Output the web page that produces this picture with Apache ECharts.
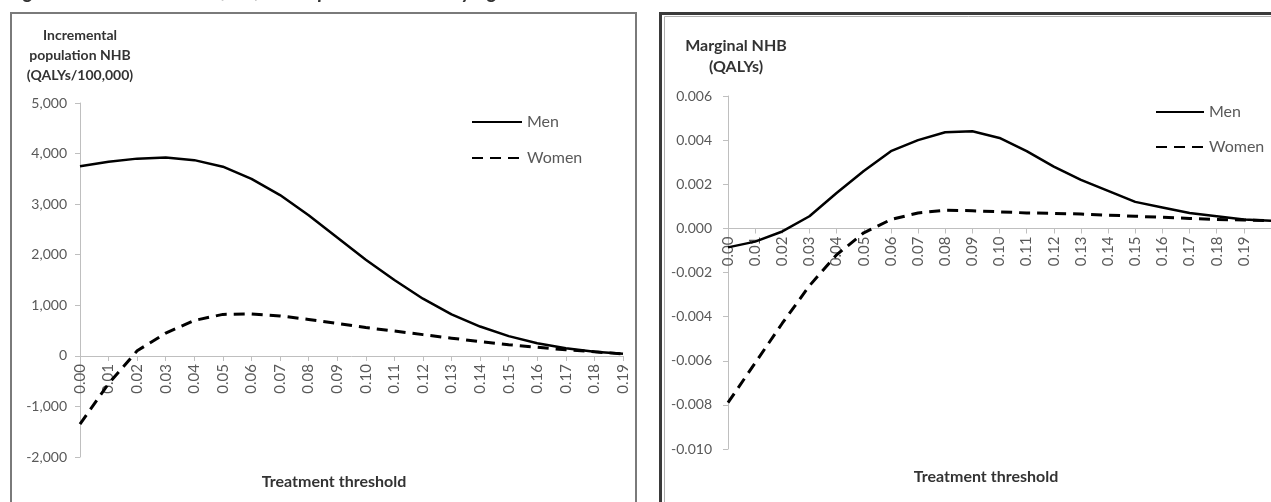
<!DOCTYPE html>
<html>
<head>
<meta charset="utf-8">
<script src="https://cdn.jsdelivr.net/npm/echarts@6/dist/echarts.min.js"></script>
<style>
  html, body { margin: 0; padding: 0; background: #fff; }
  #main { width: 1271px; height: 502px; }
</style>
</head>
<body>
<div id="main"></div>
<script>
// thresholds
var thresholdsLeft = ['0.00','0.01','0.02','0.03','0.04','0.05','0.06','0.07','0.08','0.09',
                      '0.10','0.11','0.12','0.13','0.14','0.15','0.16','0.17','0.18','0.19'];
var thresholdsRight = thresholdsLeft.concat(['0.20']);

// incremental population NHB (QALYs/100,000)
var menPop   = [3750, 3840, 3900, 3920, 3870, 3740, 3500, 3180, 2780, 2340,
                1900, 1500, 1130, 820, 580, 390, 250, 150, 80, 40];
var womenPop = [-1350, -550, 100, 450, 700, 820, 830, 790, 720, 640,
                560, 490, 420, 350, 280, 220, 170, 120, 80, 40];

// marginal NHB (QALYs)
var menMarg   = [-0.00086, -0.0006, -0.00014, 0.00055, 0.0016, 0.0026, 0.0035, 0.004, 0.00436, 0.0044,
                 0.0041, 0.0035, 0.0028, 0.0022, 0.0017, 0.0012, 0.00095, 0.0007, 0.00055, 0.0004, 0.00035];
var womenMarg = [-0.0079, -0.0061, -0.0043, -0.0026, -0.0012, -0.0002, 0.0004, 0.0007, 0.00082, 0.0008,
                 0.00075, 0.0007, 0.00068, 0.00065, 0.0006, 0.00055, 0.0005, 0.00045, 0.0004, 0.00038, 0.00035];

// y ticks
var yTicksLeft  = [-2000, -1000, 0, 1000, 2000, 3000, 4000, 5000];
var yTicksRight = [-0.010, -0.008, -0.006, -0.004, -0.002, 0.000, 0.002, 0.004, 0.006];

var font = 'Lato, "Open Sans", sans-serif';
var labelGrey = '#595959';
var axisGrey = '#bfbfbf';

var myChart = echarts.init(document.getElementById('main'));

// x axis sits on the zero line (offset up from the grid bottom)
function xAxisCfg(idx, data, offset, margin, lastShown) {
    return {
        type: 'category',
        gridIndex: idx,
        data: data,
        boundaryGap: false,
        position: 'bottom',
        offset: offset,
        axisLine: { onZero: false, lineStyle: { color: axisGrey, width: 1 } },
        axisTick: { show: true, alignWithLabel: true, length: 5, lineStyle: { color: axisGrey } },
        axisLabel: {
            rotate: 90, margin: margin, color: labelGrey, fontSize: 15, fontFamily: font,
            interval: function (i) { return i <= lastShown; }
        },
        splitLine: { show: false }
    };
}

function yAxisCfg(idx, ticks, fmt, margin) {
    return {
        type: 'value',
        gridIndex: idx,
        min: ticks[0],
        max: ticks[ticks.length - 1],
        interval: ticks[1] - ticks[0],
        axisLine: { show: true, lineStyle: { color: axisGrey } },
        axisTick: { show: true, length: 5, lineStyle: { color: axisGrey } },
        axisLabel: { color: labelGrey, fontSize: 14, fontFamily: font, margin: margin, formatter: fmt },
        splitLine: { show: false }
    };
}

var solid = { color: '#000', width: 2.5, type: 'solid' };
var dashed = { color: '#000', width: 3, type: [11, 7] };

var option = {
    backgroundColor: '#fff',
    animation: false,
    grid: [
        { left: 80, top: 103, width: 543, height: 354 },
        { left: 728, top: 96, width: 544, height: 353 }
    ],
    legend: [
        {
            data: ['Men', 'Women'], orient: 'vertical', left: 466, top: 109,
            itemWidth: 50, itemHeight: 14, itemGap: 20,
            itemStyle: { opacity: 0 },
            textStyle: { color: labelGrey, fontSize: 16, fontFamily: font }
        },
        {
            data: ['Men', 'Women'], orient: 'vertical', left: 1150, top: 99,
            itemWidth: 48, itemHeight: 14, itemGap: 19,
            itemStyle: { opacity: 0 },
            textStyle: { color: labelGrey, fontSize: 16, fontFamily: font }
        }
    ],
    xAxis: [
        xAxisCfg(0, thresholdsLeft, -101, 8, 19),
        xAxisCfg(1, thresholdsRight, -220.5, 8, 19)
    ],
    yAxis: [
        yAxisCfg(0, yTicksLeft, function (v) { return v.toLocaleString('en-US'); }, 13),
        yAxisCfg(1, yTicksRight, function (v) { return v.toFixed(3); }, 16)
    ],
    series: [
        { name: 'Men', type: 'line', xAxisIndex: 0, yAxisIndex: 0, data: menPop,
          showSymbol: false, symbol: 'none', lineStyle: solid, itemStyle: { color: '#000' } },
        { name: 'Women', type: 'line', xAxisIndex: 0, yAxisIndex: 0, data: womenPop,
          showSymbol: false, symbol: 'none', lineStyle: dashed, itemStyle: { color: '#000' } },
        { name: 'Men', type: 'line', xAxisIndex: 1, yAxisIndex: 1, data: menMarg,
          showSymbol: false, symbol: 'none', lineStyle: solid, itemStyle: { color: '#000' } },
        { name: 'Women', type: 'line', xAxisIndex: 1, yAxisIndex: 1, data: womenMarg,
          showSymbol: false, symbol: 'none', lineStyle: dashed, itemStyle: { color: '#000' } }
    ],
    graphic: [
        // figure caption, cut at the top
        { type: 'text', left: 8, top: -18, style: {
            text: 'Figure 2: Net health benefit of statin prevention at varying treatment thresholds',
            font: 'italic bold 20px ' + font, fill: '#333' } },
        // panel frames
        { type: 'rect', shape: { x: 11, y: 13, width: 625, height: 520 },
          style: { fill: 'none', stroke: '#7a7a7a', lineWidth: 2 } },
        { type: 'rect', shape: { x: 660.5, y: 13.5, width: 640, height: 520 },
          style: { fill: 'none', stroke: '#3a3a3a', lineWidth: 3 } },
        { type: 'rect', shape: { x: 664.5, y: 16.5, width: 640, height: 520 },
          style: { fill: 'none', stroke: '#b0b0b0', lineWidth: 1 } },
        // axis titles
        { type: 'text', x: 80, y: 25, style: {
            text: 'Incremental\npopulation NHB\n(QALYs/100,000)', align: 'center', lineHeight: 20,
            font: 'bold 14px ' + font, fill: '#333' } },
        { type: 'text', x: 736, y: 35, style: {
            text: 'Marginal NHB\n(QALYs)', align: 'center', lineHeight: 21,
            font: 'bold 16px ' + font, fill: '#333' } },
        { type: 'text', x: 334, y: 474, style: {
            text: 'Treatment threshold', align: 'center',
            font: 'bold 16px ' + font, fill: '#333' } },
        { type: 'text', x: 986, y: 469, style: {
            text: 'Treatment threshold', align: 'center',
            font: 'bold 16px ' + font, fill: '#333' } }
    ]
};
myChart.setOption(option);
</script>
</body>
</html>
